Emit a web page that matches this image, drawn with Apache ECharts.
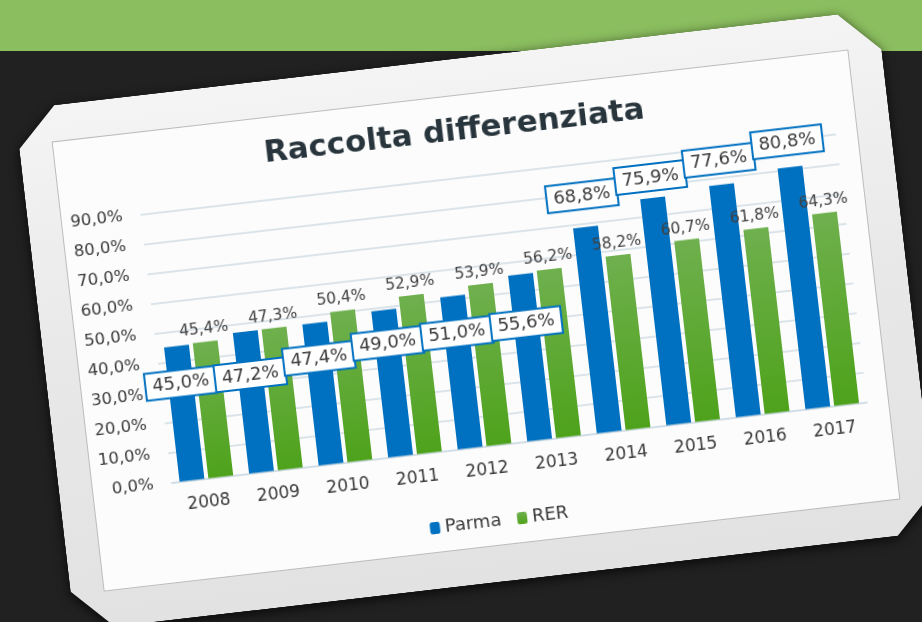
<!DOCTYPE html>
<html>
<head>
<meta charset="utf-8">
<script src="https://cdn.jsdelivr.net/npm/echarts@6/dist/echarts.min.js"></script>
<style>
html,body{margin:0;padding:0;width:922px;height:622px;overflow:hidden;background:#212121;}
#band{position:absolute;left:0;top:0;width:922px;height:51px;background:#8bbe5f;}
#stackWrap{position:absolute;left:0;top:0;width:922px;height:622px;filter:drop-shadow(0 3px 6px rgba(0,0,0,0.75));}
#stack{position:absolute;left:42px;top:57.5px;width:868px;height:525px;transform:rotate(-6.6deg);
  background:linear-gradient(180deg,#f4f4f4 0%,#e8e8e8 50%,#e2e2e2 100%);
  clip-path:polygon(40px 0,calc(100% - 40px) 0,100% 40px,100% calc(100% - 40px),calc(100% - 40px) 100%,40px 100%,0 calc(100% - 40px),0 40px);}
#card{position:absolute;left:76px;top:94.5px;width:800px;height:451px;transform:rotate(-6.6deg);background:#fcfcfc;box-shadow:0 0 0 1px #bcbcbc;}
#billChart{width:800px;height:451px;}
</style>
</head>
<body>
<div id="band"></div>
<div id="stackWrap"><div id="stack"></div></div>
<div id="card"><div id="billChart"></div></div>
<script>
var years = ['2008', '2009', '2010', '2011', '2012', '2013', '2014', '2015', '2016', '2017'];
var parma = [45.0, 47.2, 47.4, 49.0, 51.0, 55.6, 68.8, 75.9, 77.6, 80.8];
var rer = [45.4, 47.3, 50.4, 52.9, 53.9, 56.2, 58.2, 60.7, 61.8, 64.3];
// the boxed Parma labels were moved by hand in the original, px shift from "top"
var parmaLabelDy = [55, 61, 53, 51, 55, 67, -14, -3, -7, -8];

function pct(v) {
    return v.toFixed(1).replace('.', ',') + '%';
}

var parmaData = [];
for (var i = 0; i < parma.length; i++) {
    parmaData.push({value: parma[i], label: {offset: [0, parmaLabelDy[i]]}});
}

var font = 'DejaVu Sans';
var option = {
    animation: false,
    textStyle: {fontFamily: font},
    title: {
        text: 'Raccolta differenziata',
        left: 'center',
        top: 15,
        textStyle: {fontFamily: font, fontSize: 31, fontWeight: 'bold', color: '#28353c'}
    },
    legend: {
        data: ['Parma', 'RER'],
        top: 413,
        left: 'center',
        itemWidth: 10,
        itemHeight: 12,
        itemGap: 16,
        textStyle: {fontFamily: font, fontSize: 18, color: '#3a3a3a'}
    },
    grid: {left: 79, right: 21, top: 81.6, bottom: 99.4},
    xAxis: [{
        type: 'category',
        data: years,
        axisLine: {lineStyle: {color: '#cedce3', width: 1.5}},
        axisTick: {show: false},
        axisLabel: {fontFamily: font, fontSize: 17, color: '#3a3a3a', margin: 15}
    }],
    yAxis: [{
        type: 'value',
        min: 0,
        max: 90,
        interval: 10,
        axisLine: {show: false},
        axisTick: {show: false},
        splitLine: {lineStyle: {color: '#d0dde3', width: 1.5}},
        axisLabel: {fontFamily: font, fontSize: 16.5, color: '#3a3a3a', margin: 18, formatter: pct}
    }],
    series: [
        {
            name: 'Parma',
            type: 'bar',
            barWidth: 25,
            barGap: '16%',
            itemStyle: {color: '#0070c0'},
            label: {
                show: true,
                position: 'top',
                distance: 5,
                formatter: function (p) { return pct(p.value); },
                fontFamily: font,
                fontSize: 18,
                color: '#3a3a3a',
                backgroundColor: '#ffffff',
                borderColor: '#0070c0',
                borderWidth: 2,
                padding: [4, 6, 3, 6]
            },
            data: parmaData
        },
        {
            name: 'RER',
            type: 'bar',
            barWidth: 25,
            itemStyle: {
                color: new echarts.graphic.LinearGradient(0, 0, 0, 1, [
                    {offset: 0, color: '#6fb04e'},
                    {offset: 1, color: '#4ea21b'}
                ])
            },
            label: {
                show: true,
                position: 'top',
                distance: 4,
                formatter: function (p) { return pct(p.value); },
                fontFamily: font,
                fontSize: 15.5,
                color: '#404040'
            },
            data: rer
        }
    ]
};
var myChart = echarts.init(document.getElementById('billChart'));
myChart.setOption(option);
</script>
</body>
</html>
